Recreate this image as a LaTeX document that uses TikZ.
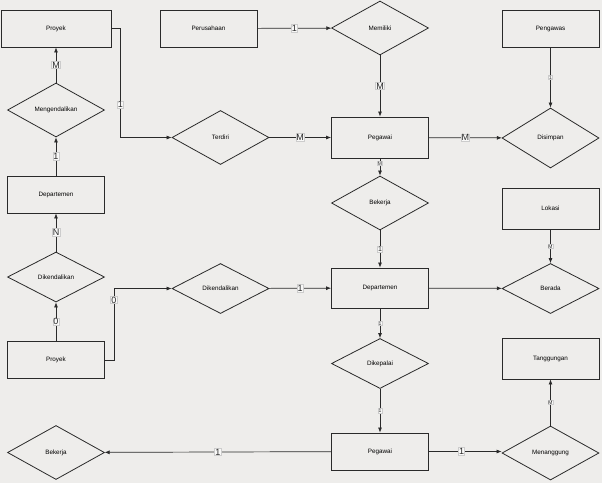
\documentclass[tikz,border=0pt]{standalone}
\usepackage{fontspec}
\setmainfont{Liberation Sans}
\usetikzlibrary{shapes.geometric,arrows.meta}
\definecolor{bg}{HTML}{EEEDEB}
\definecolor{ln}{HTML}{2A2A2A}
\tikzset{
  ent/.style={draw=ln, line width=0.9pt, minimum width=97pt, minimum height=37pt, inner sep=0pt, font=\fontsize{6.3}{7}\selectfont},
  rel/.style={draw=ln, line width=0.8pt, diamond, minimum width=97pt, minimum height=54pt, inner sep=0pt, aspect=1.8, font=\fontsize{6.3}{7}\selectfont},
  conn/.style={draw=ln, line width=0.7pt, -{Latex[length=5pt,width=4pt]}},
  lab/.style={fill=white!60!bg, draw=gray!40, inner sep=0.6pt, font=\fontsize{9}{9}\selectfont, text=ln},
  slab/.style={fill=white!60!bg, draw=gray!40, inner sep=0.5pt, font=\fontsize{5}{5}\selectfont, text=ln},
}
\begin{document}
\begin{tikzpicture}[x=1pt,y=-1pt]
\fill[bg] (0,0) rectangle (602,483);
\useasboundingbox (0,0) rectangle (602,483);
% entities
\node[ent, minimum width=110pt] (proyek1) at (56,28.5) {Proyek};
\node[ent] (perusahaan) at (208.5,28.5) {Perusahaan};
\node[ent] (pengawas) at (550.5,28.5) {Pengawas};
\node[ent, minimum height=41pt] (pegawai1) at (380,137.5) {Pegawai};
\node[ent] (dept1) at (56,194.5) {Departemen};
\node[ent, minimum height=41pt] (lokasi) at (550.5,208.5) {Lokasi};
\node[ent, minimum height=40pt] (dept2) at (380,288) {Departemen};
\node[ent] (proyek2) at (56,360) {Proyek};
\node[ent, minimum height=41pt] (tanggungan) at (550.5,358.5) {Tanggungan};
\node[ent] (pegawai2) at (380,451.5) {Pegawai};
% relationships
\node[rel] (memiliki) at (380,28) {Memiliki};
\node[rel] (mengendalikan) at (56,110) {Mengendalikan};
\node[rel] (terdiri) at (220.5,137.5) {Terdiri};
\node[rel, minimum height=60pt] (disimpan) at (550.5,138) {Disimpan};
\node[rel] (bekerja1) at (380,203) {Bekerja};
\node[rel, minimum height=50pt] (dikendalikan1) at (56,277) {Dikendalikan};
\node[rel, minimum height=50pt] (dikendalikan2) at (220.5,288.5) {Dikendalikan};
\node[rel, minimum height=50pt] (berada) at (550.5,288.5) {Berada};
\node[rel, minimum height=50pt] (dikepalai) at (380,363.5) {Dikepalai};
\node[rel] (bekerja2) at (56,452.5) {Bekerja};
\node[rel] (menanggung) at (550.5,453) {Menanggung};
% connectors
\draw[conn] (perusahaan) -- node[lab]{1} (memiliki);
\draw[conn] (proyek1.east) -- ++(9,0) |- node[lab, pos=0.35]{1} (terdiri.west);
\draw[conn] (mengendalikan) -- node[lab]{M} (proyek1);
\draw[conn] (dept1) -- node[lab]{1} (mengendalikan);
\draw[conn] (dikendalikan1) -- node[lab]{N} (dept1);
\draw[conn] (proyek2) -- node[lab]{0} (dikendalikan1);
\draw[conn] (proyek2.east) -- ++(9,0) |- node[lab, pos=0.42]{0} (dikendalikan2.west);
\draw[conn] (dikendalikan2) -- node[lab]{1} (dept2);
\draw[conn] (terdiri) -- node[lab]{M} (pegawai1);
\draw[conn] (memiliki) -- node[lab]{M} (pegawai1);
\draw[conn] (pegawai1) -- node[lab]{M} (disimpan);
\draw[conn] (pengawas) -- node[slab]{1} (disimpan);
\draw[conn] (pegawai1) -- node[slab, pos=0.3]{M} (bekerja1);
\draw[conn] (bekerja1) -- node[slab, font=\fontsize{7}{7}\selectfont]{1} (dept2);
\draw[conn] (lokasi) -- node[slab]{M} (berada);
\draw[conn] (dept2) -- (berada);
\draw[conn] (dept2) -- node[slab]{1} (dikepalai);
\draw[conn] (dikepalai) -- node[slab]{1} (pegawai2);
\draw[conn] (pegawai2) -- node[lab]{1} (bekerja2);
\draw[conn] (pegawai2.east) -- node[lab, pos=0.45]{1} (menanggung.west |- pegawai2.east);
\draw[conn] (menanggung) -- node[slab]{M} (tanggungan);
\end{tikzpicture}
\end{document}
